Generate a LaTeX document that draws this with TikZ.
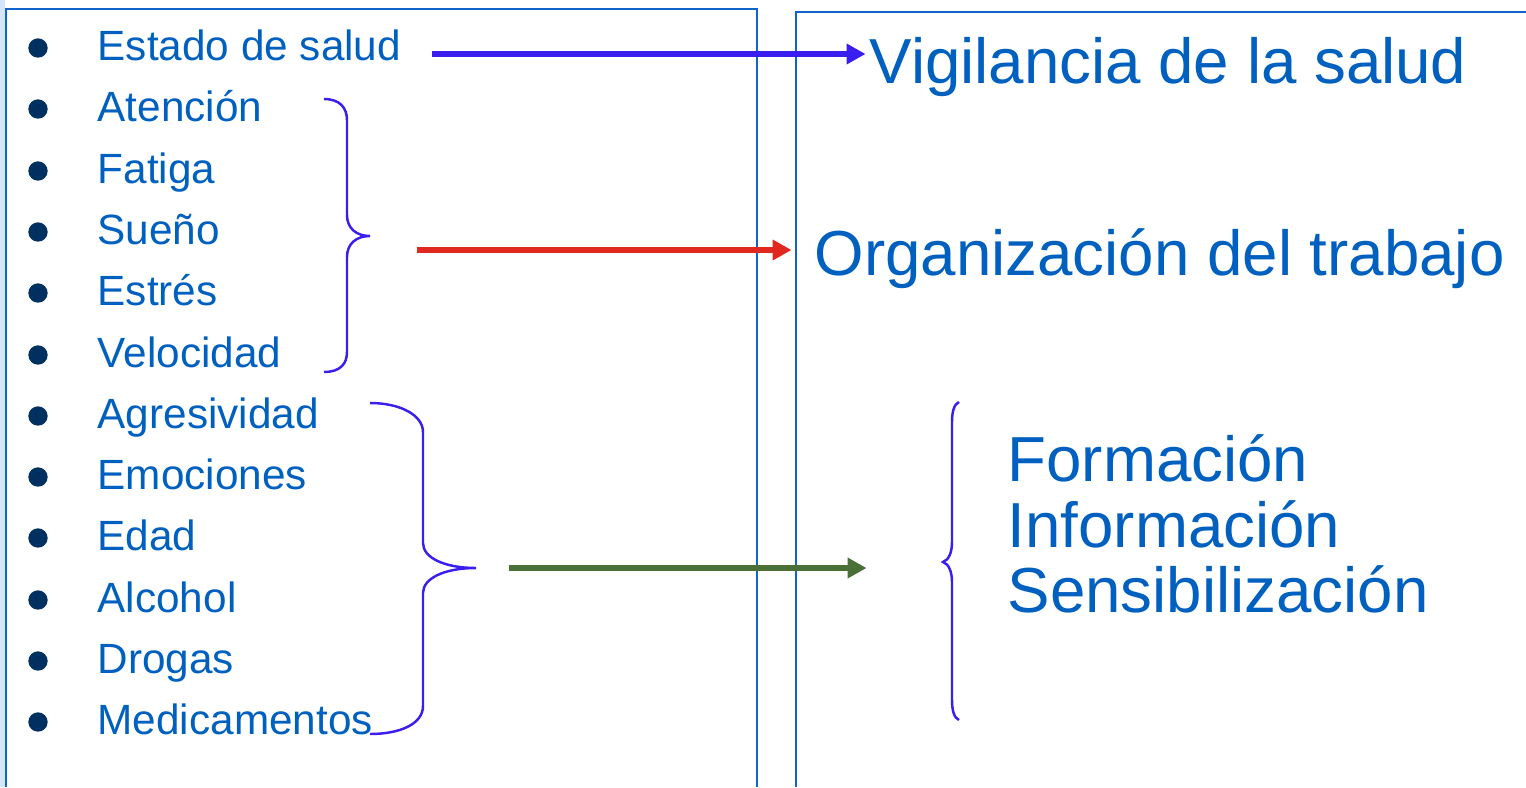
\documentclass[tikz,border=0pt]{standalone}
\usepackage{fontspec}
\setmainfont{Liberation Sans}
\usepackage{tikz}
\usetikzlibrary{arrows.meta}
\pgfdeclarelayer{edgelayer}
\pgfdeclarelayer{nodelayer}
\pgfsetlayers{edgelayer,nodelayer,main}
\definecolor{textblue}{RGB}{0,96,192}
\definecolor{dotnavy}{RGB}{0,48,96}
\definecolor{framelineblue}{RGB}{16,100,200}
\definecolor{stripblue}{RGB}{212,230,250}
\definecolor{bracepurple}{RGB}{58,30,240}
\definecolor{arrowred}{RGB}{224,40,30}
\definecolor{arrowgreen}{RGB}{74,112,56}
\tikzstyle{none}=[inner sep=0pt]
\tikzstyle{bullet_dot}=[fill=dotnavy, draw=none, shape=circle, minimum size=5.5pt, inner sep=0pt]
\tikzstyle{list_item}=[text=textblue, anchor=base west, inner sep=0pt, font=\fontsize{12.03pt}{14pt}\selectfont]
\tikzstyle{big_text}=[text=textblue, anchor=base west, inner sep=0pt, font=\fontsize{18.1pt}{20pt}\selectfont]
\tikzstyle{frame_line}=[draw=framelineblue, line width=0.6pt]
\tikzstyle{brace_line}=[draw=bracepurple, line width=0.7pt]
\tikzstyle{thick_arrow}=[line width=1.6pt, -{Triangle[length=5.4pt, width=5.6pt]}]

\begin{document}
\begin{tikzpicture}[x=0.01cm, y=-0.01cm]
    \useasboundingbox (0,0) rectangle (1526,787);
    \fill [stripblue] (0,0) rectangle (5,787);
    \begin{pgfonlayer}{nodelayer}
        % bullets
        \node [style=bullet_dot] (0) at (38, 48) {};
        \node [style=bullet_dot] (1) at (38, 109) {};
        \node [style=bullet_dot] (2) at (38, 171) {};
        \node [style=bullet_dot] (3) at (38, 232) {};
        \node [style=bullet_dot] (4) at (38, 293) {};
        \node [style=bullet_dot] (5) at (38, 355) {};
        \node [style=bullet_dot] (6) at (38, 416) {};
        \node [style=bullet_dot] (7) at (38, 477) {};
        \node [style=bullet_dot] (8) at (38, 538) {};
        \node [style=bullet_dot] (9) at (38, 600) {};
        \node [style=bullet_dot] (10) at (38, 661) {};
        \node [style=bullet_dot] (11) at (38, 722) {};

        % left list
        \node [style=list_item] (20) at (97, 60) {Estado de salud};
        \node [style=list_item] (21) at (97, 121) {Atención};
        \node [style=list_item] (22) at (97, 183) {Fatiga};
        \node [style=list_item] (23) at (97, 244) {Sueño};
        \node [style=list_item] (24) at (97, 305) {Estrés};
        \node [style=list_item] (25) at (97, 367) {Velocidad};
        \node [style=list_item] (26) at (97, 428) {Agresividad};
        \node [style=list_item] (27) at (97, 489) {Emociones};
        \node [style=list_item] (28) at (97, 550) {Edad};
        \node [style=list_item] (29) at (97, 612) {Alcohol};
        \node [style=list_item] (30) at (97, 673) {Drogas};
        \node [style=list_item] (31) at (97, 734) {Medicamentos};

        % right side
        \node [style=big_text] (40) at (869, 83) {Vigilancia de la salud};
        \node [style=big_text] (41) at (814, 275) {Organización del trabajo};
        \node [style=big_text] (42) at (1007, 481) {Formación};
        \node [style=big_text] (43) at (1007, 547) {Información};
        \node [style=big_text] (44) at (1007, 612) {Sensibilización};

        % arrow ends
        \node [style=none] (50) at (430, 54) {};
        \node [style=none] (51) at (868, 54) {};
        \node [style=none] (52) at (415, 250) {};
        \node [style=none] (53) at (794, 250) {};
        \node [style=none] (54) at (507, 568) {};
        \node [style=none] (55) at (869, 568) {};
    \end{pgfonlayer}
    \begin{pgfonlayer}{edgelayer}
        % frames
        \draw [style=frame_line] (6,787) -- (6,9) -- (757,9) -- (757,787);
        \draw [style=frame_line] (796,787) -- (796,12) -- (1526,12);

        % braces
        \draw [style=brace_line] (324,99) .. controls (340,99) and (347,108) .. (347,120) -- (347,215)
            .. controls (347,228) and (356,236) .. (370,236) .. controls (356,236) and (347,244) .. (347,257)
            -- (347,352) .. controls (347,364) and (340,372) .. (324,372);
        \draw [style=brace_line] (370,403) .. controls (400,403) and (423,415) .. (423,432) -- (423,543)
            .. controls (423,558) and (445,568) .. (476,568) .. controls (445,568) and (423,578) .. (423,593)
            -- (423,706) .. controls (423,724) and (400,734) .. (370,734);
        \draw [style=brace_line] (959,402) .. controls (954,404) and (952,412) .. (952,422) -- (952,542)
            .. controls (952,552) and (949,560) .. (943,562) .. controls (949,564) and (952,572) .. (952,582)
            -- (952,700) .. controls (952,710) and (954,718) .. (959,720);

        % arrows
        \draw [style=thick_arrow, draw=bracepurple, fill=bracepurple] (50) to (51);
        \draw [style=thick_arrow, draw=arrowred, fill=arrowred] (52) to (53);
        \draw [style=thick_arrow, draw=arrowgreen, fill=arrowgreen] (54) to (55);
    \end{pgfonlayer}
\end{tikzpicture}
\end{document}
